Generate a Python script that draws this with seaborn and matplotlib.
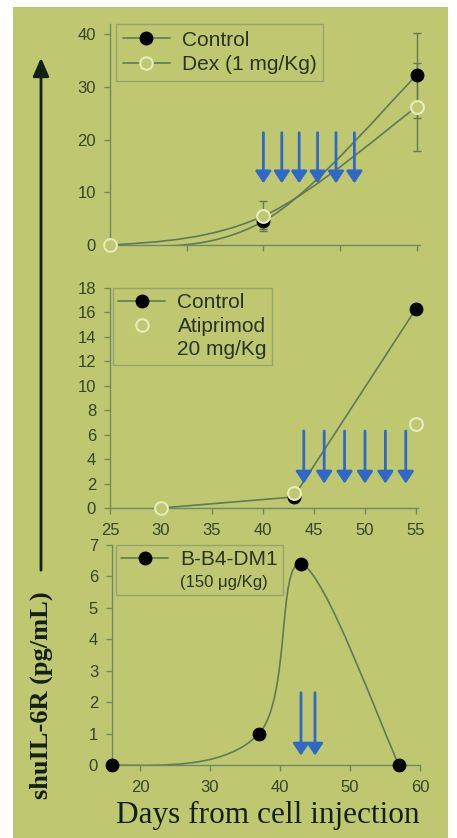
import numpy as np
import pandas as pd
import seaborn as sns
import matplotlib.pyplot as plt
from matplotlib.path import Path
from matplotlib.patches import PathPatch, Rectangle, FancyArrowPatch
from matplotlib.lines import Line2D

# ---- data ----
days_top = [25, 40, 55]
control_top = [0, 4.5, 32.2]
control_top_err = [0, 1.5, 8.1]
dex_top = [0, 5.5, 26.2]
dex_top_err = [0, 2.9, 8.4]
arrows_top = [40, 41.8, 43.5, 45.3, 47.1, 48.9]

days_mid = [30, 43, 55]
control_mid = [0, 0.9, 16.3]
atip_mid = [0, 1.2, 6.9]
arrows_mid = [44, 46, 48, 50, 52, 54]

days_bot = [16, 37, 43, 57]
bb4_bot = [0, 1.0, 6.4, 0]
arrows_bot = [43, 45]

BG = '#bfc871'
LINE = '#5f7a55'
SPINE = '#6f8864'
TXT = '#36432f'
BLUE = '#2f68c6'
OPEN = '#e6edbd'

sns.set_theme(style='ticks')
plt.rcParams['font.family'] = ['Liberation Sans', 'DejaVu Sans']


def smooth_path(xs, ys):
    # smoothed line like the spreadsheet one (cubic bezier through the points)
    pts = np.column_stack([xs, ys]).astype(float)
    n = len(pts)
    verts = [pts[0]]
    codes = [Path.MOVETO]
    for i in range(n - 1):
        p1 = pts[i]
        p2 = pts[i + 1]
        p3 = pts[i + 2] if i + 2 < n else pts[i + 1]
        c2 = p2 - (p3 - p1) / 6
        if i == 0:
            c1 = p1 + (c2 - p1) / 2
        else:
            c1 = p1 + (p2 - pts[i - 1]) / 6
        verts += [c1, c2, p2]
        codes += [Path.CURVE4] * 3
    return Path(verts, codes)


def style_axes(ax):
    ax.set_facecolor('none')
    sns.despine(ax=ax)
    for s in ['left', 'bottom']:
        ax.spines[s].set_color(SPINE)
        ax.spines[s].set_linewidth(1.0)
    ax.tick_params(colors=SPINE, labelcolor=TXT, labelsize=12, length=4, width=1)
    ax.tick_params(axis='y', pad=6)
    ax.tick_params(axis='x', pad=7)


def arrows(ax, days, top, tip):
    for d in days:
        ax.annotate('', xy=(d, tip), xytext=(d, top),
                    arrowprops=dict(arrowstyle='-|>,head_length=0.6,head_width=0.4',
                                    mutation_scale=12, color=BLUE, lw=2, shrinkA=0, shrinkB=0))


def frame(leg):
    leg.get_frame().set_facecolor('none')
    leg.get_frame().set_edgecolor('#8a9a70')
    leg.get_frame().set_linewidth(1.0)
    for t in leg.get_texts():
        t.set_color('#2a3328')


fig = plt.figure(figsize=(4.57, 8.38), dpi=100, facecolor='white')
fig.add_artist(Rectangle((13 / 457, 0), 435 / 457, 831 / 838, transform=fig.transFigure,
                         facecolor=BG, edgecolor='none', zorder=0))

filled = dict(color=LINE, lw=1.2, marker='o', ms=9, mfc='black', mec='black')
hollow = dict(marker='o', ms=9, mfc=BG, mec=OPEN, mew=1.5)

# ---- top panel ----
ax1 = fig.add_axes([0.2407, 0.7076, 0.678, 0.2643])
style_axes(ax1)
ax1.add_patch(PathPatch(smooth_path(days_top, control_top), fill=False, color=LINE, lw=1.2))
ax1.add_patch(PathPatch(smooth_path(days_top, dex_top), fill=False, color=LINE, lw=1.2))
ax1.errorbar(days_top, control_top, yerr=control_top_err, fmt='none', ecolor=LINE,
             elinewidth=1, capsize=3, clip_on=False)
ax1.errorbar(days_top, dex_top, yerr=dex_top_err, fmt='none', ecolor=LINE,
             elinewidth=1, capsize=3, clip_on=False)
arrows(ax1, arrows_top, 21.3, 11.7)
df_top = pd.DataFrame({'day': days_top, 'control': control_top, 'dex': dex_top})
sns.scatterplot(data=df_top, x='day', y='control', ax=ax1, s=85, color='black',
                edgecolor='black', zorder=5, clip_on=False)
sns.scatterplot(data=df_top, x='day', y='dex', ax=ax1, s=85, facecolor=BG,
                edgecolor=OPEN, linewidth=1.5, zorder=6, clip_on=False)
ax1.set_xlim(25, 55.3)
ax1.set_ylim(0, 42)
ax1.set_xticks([25, 32.5, 40, 47.5, 55])
ax1.set_xticklabels([])
ax1.set_yticks([0, 10, 20, 30, 40])
ax1.set_xlabel('')
ax1.set_ylabel('')
h1 = [Line2D([], [], **filled), Line2D([], [], color=LINE, lw=1.2, **hollow)]
leg = ax1.legend(h1, ['Control', 'Dex (1 mg/Kg)'], loc='upper left', bbox_to_anchor=(0.019, 0.998),
                 borderaxespad=0, fontsize=15, handlelength=2.26, frameon=True, fancybox=False,
                 handletextpad=0.58, borderpad=0.32, labelspacing=0.25)
frame(leg)

# ---- middle panel ----
ax2 = fig.add_axes([0.2407, 0.3938, 0.674, 0.2625])
style_axes(ax2)
df_mid = pd.DataFrame({'day': days_mid, 'control': control_mid, 'atip': atip_mid})
sns.lineplot(data=df_mid, x='day', y='control', ax=ax2, color=LINE, lw=1.2)
arrows(ax2, arrows_mid, 6.3, 2.0)
sns.scatterplot(data=df_mid, x='day', y='control', ax=ax2, s=85, color='black',
                edgecolor='black', zorder=5, clip_on=False)
sns.scatterplot(data=df_mid, x='day', y='atip', ax=ax2, s=85, facecolor=BG,
                edgecolor=OPEN, linewidth=1.5, zorder=6, clip_on=False)
ax2.set_xlim(25, 55.2)
ax2.set_ylim(0, 18)
ax2.set_xticks(range(25, 56, 5))
ax2.set_yticks(range(0, 19, 2))
ax2.set_xlabel('')
ax2.set_ylabel('')
h2 = [Line2D([], [], **filled), Line2D([], [], ls='none', **hollow), Line2D([], [], ls='none')]
leg = ax2.legend(h2, ['Control', 'Atiprimod', '20 mg/Kg'], loc='upper left', bbox_to_anchor=(0.01, 1.0),
                 borderaxespad=0, fontsize=15, handlelength=2.26, frameon=True, fancybox=False,
                 handletextpad=0.58, borderpad=0.25, labelspacing=0.22)
frame(leg)

# ---- bottom panel ----
ax3 = fig.add_axes([0.245, 0.0871, 0.674, 0.2625])
style_axes(ax3)
ax3.add_patch(PathPatch(smooth_path(days_bot, bb4_bot), fill=False, color=LINE, lw=1.2))
arrows(ax3, arrows_bot, 2.3, 0.3)
df_bot = pd.DataFrame({'day': days_bot, 'bb4': bb4_bot})
sns.scatterplot(data=df_bot, x='day', y='bb4', ax=ax3, s=85, color='black',
                edgecolor='black', zorder=5, clip_on=False)
ax3.set_xlim(16, 60)
ax3.set_ylim(0, 7)
ax3.set_xticks([20, 30, 40, 50, 60])
ax3.set_yticks(range(0, 8))
ax3.set_xlabel('')
ax3.set_ylabel('')
h3 = [Line2D([], [], **filled), Line2D([], [], ls='none')]
leg = ax3.legend(h3, ['B-B4-DM1', '(150 \u03bcg/Kg)'], loc='upper left', bbox_to_anchor=(0.013, 1.0),
                 borderaxespad=0, fontsize=15, handlelength=2.26, frameon=True, fancybox=False,
                 handletextpad=0.58, borderpad=0.25, labelspacing=0.15)
frame(leg)
leg.get_texts()[1].set_fontsize(12)

# ---- shared labels ----
fig.add_artist(FancyArrowPatch((41 / 457, 1 - 573 / 838), (41 / 457, 1 - 55 / 838),
                               transform=fig.transFigure,
                               arrowstyle='-|>,head_length=0.8,head_width=0.35',
                               mutation_scale=14, color='#142014', lw=2))
fig.text(41 / 457, 1 - 695 / 838, 'shuIL-6R (pg/mL)', rotation=90, ha='center', va='center',
         family=['Liberation Serif', 'DejaVu Serif'], fontweight='bold', fontsize=19, color='#142014')
fig.text(268 / 457, 1 - 815 / 838, 'Days from cell injection', ha='center', va='center',
         family=['Liberation Serif', 'DejaVu Serif'], fontsize=22.5, color='#142014')

fig.savefig('out.png', dpi=100, facecolor='white')
